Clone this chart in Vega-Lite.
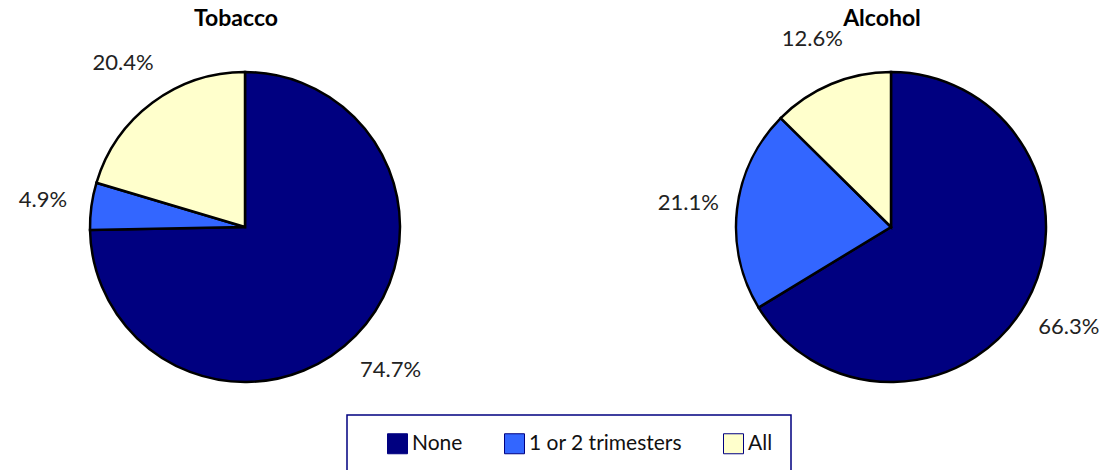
{
  "$schema": "https://vega.github.io/schema/vega-lite/v6.json",
  "autosize": {"type": "none"},
  "width": 1099,
  "height": 454,
  "padding": {"left": 0, "top": 0, "right": 0, "bottom": 16},
  "background": "white",
  "data": {
    "values": [
      {"chart": "Tobacco", "category": "None", "order": 1, "share": 0.747},
      {"chart": "Tobacco", "category": "1 or 2 trimesters", "order": 2, "share": 0.049},
      {"chart": "Tobacco", "category": "All", "order": 3, "share": 0.204},
      {"chart": "Alcohol", "category": "None", "order": 1, "share": 0.663},
      {"chart": "Alcohol", "category": "1 or 2 trimesters", "order": 2, "share": 0.211},
      {"chart": "Alcohol", "category": "All", "order": 3, "share": 0.126}
    ]
  },
  "transform": [
    {"stack": "share", "groupby": ["chart"], "sort": [{"field": "order"}], "as": ["start", "end"]}
  ],
  "encoding": {
    "x": {
      "field": "chart", "type": "nominal", "axis": null,
      "scale": {"type": "point", "domain": ["Tobacco", "Alcohol"], "range": [245, 891], "padding": 0}
    }
  },
  "layer": [
    {
      "mark": {"type": "arc", "outerRadius": 155, "stroke": "black", "strokeWidth": 2.5},
      "encoding": {
        "theta": {"field": "start", "type": "quantitative", "scale": {"domain": [0, 1]}},
        "theta2": {"field": "end"},
        "color": {
          "field": "category", "type": "nominal", "title": null,
          "scale": {"domain": ["None", "1 or 2 trimesters", "All"], "range": ["#000080", "#3366FF", "#FFFFCC"]}
        }
      }
    },
    {
      "transform": [{"calculate": "(datum.start + datum.end) / 2", "as": "mid"}],
      "mark": {"type": "text", "radius": 204, "fontSize": 22, "font": "Lato", "color": "#222222"},
      "encoding": {
        "theta": {"field": "mid", "type": "quantitative", "scale": {"domain": [0, 1]}},
        "text": {"field": "share", "type": "quantitative", "format": ".1%"}
      }
    },
    {
      "transform": [{"filter": "datum.order === 1"}],
      "mark": {"type": "text", "radius": 208, "theta": 0, "dx": -9, "fontSize": 23, "fontWeight": "bold", "font": "Lato", "color": "#000000"},
      "encoding": {"text": {"field": "chart", "type": "nominal"}}
    }
  ],
  "config": {
    "view": {"stroke": null},
    "font": "Lato",
    "legend": {
      "orient": "none",
      "legendX": 347,
      "legendY": 415,
      "direction": "horizontal",
      "strokeColor": "#000080",
      "strokeWidth": 1.5,
      "padding": 18,
      "fillColor": "white",
      "symbolType": "square",
      "symbolSize": 400,
      "symbolStrokeColor": "#000080",
      "symbolStrokeWidth": 1,
      "symbolOpacity": 1,
      "labelFontSize": 21,
      "labelFont": "Lato",
      "labelColor": "#111111",
      "labelOffset": 4,
      "columnPadding": 19,
      "symbolOffset": 22
    }
  }
}
